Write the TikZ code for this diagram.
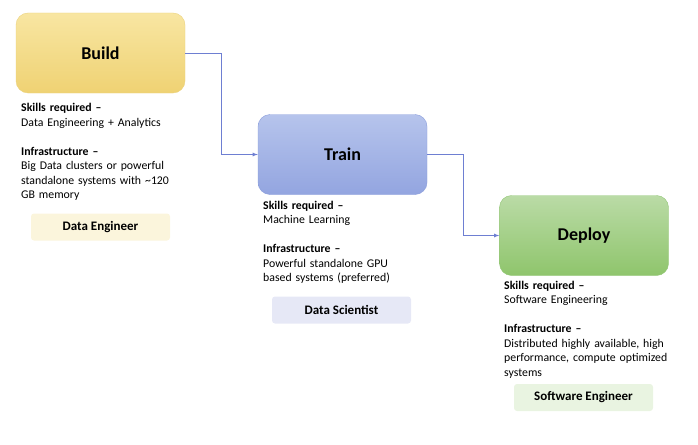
\documentclass[tikz,border=0pt]{standalone}
\usepackage{fontspec}
\setmainfont{Carlito}
\definecolor{buildtop}{HTML}{F8E6A2}
\definecolor{buildbot}{HTML}{EFD273}
\definecolor{buildline}{HTML}{EBD27E}
\definecolor{traintop}{HTML}{B6C4EC}
\definecolor{trainbot}{HTML}{93A5E0}
\definecolor{trainline}{HTML}{8A9DDB}
\definecolor{deploytop}{HTML}{BADBA6}
\definecolor{deploybot}{HTML}{8FC56C}
\definecolor{deployline}{HTML}{93C677}
\definecolor{engfill}{HTML}{FBF5DC}
\definecolor{scifill}{HTML}{E6E8F6}
\definecolor{swfill}{HTML}{E9F4E1}
\definecolor{flow}{HTML}{6E7FD2}
\begin{document}
\begin{tikzpicture}
    \def\dx{1pt}
    \def\dy{-1pt}

    \tikzstyle{stage}=[rounded corners=12pt,minimum width=169pt,minimum height=80pt,font=\fontsize{18}{20}\selectfont\bfseries]
    \tikzstyle{build}=[stage,draw=buildline,top color=buildtop,bottom color=buildbot]
    \tikzstyle{train}=[stage,draw=trainline,top color=traintop,bottom color=trainbot]
    \tikzstyle{deploy}=[stage,draw=deployline,top color=deploytop,bottom color=deploybot]
    \tikzstyle{info}=[anchor=base west,inner sep=0pt,text width=190pt,align=left,font=\fontsize{11.8}{14.5}\selectfont]
    \tikzstyle{role}=[rounded corners=3pt,minimum width=139pt,minimum height=27pt,font=\fontsize{13}{15}\selectfont\bfseries]

    \useasboundingbox (0,0) rectangle (698*\dx,444*\dy);

    \node[build]  (build) at (100.5*\dx,53*\dy) {Build};
    \node[train]  (train) at (342.5*\dx,154.5*\dy) {Train};
    \node[deploy] (deploy) at (584*\dx,235.5*\dy) {Deploy};

    \node[info] (buildinfo) at (21*\dx,111.7*\dy) {\textbf{Skills required –}\\Data Engineering + Analytics\\[14.5pt]\textbf{Infrastructure –}\\Big Data clusters or powerful\\standalone systems with \textasciitilde120\\GB memory};
    \node[info] (traininfo) at (263*\dx,209.3*\dy) {\textbf{Skills required –}\\Machine Learning\\[14.5pt]\textbf{Infrastructure –}\\Powerful standalone GPU\\based systems (preferred)};
    \node[info] (deployinfo) at (504*\dx,289.3*\dy) {\textbf{Skills required –}\\Software Engineering\\[14.5pt]\textbf{Infrastructure –}\\Distributed highly available, high\\performance, compute optimized\\systems};

    \node[role,fill=engfill] (eng) at (100.5*\dx,227*\dy) {Data Engineer};
    \node[role,fill=scifill] (sci) at (341.5*\dx,310*\dy) {Data Scientist};
    \node[role,fill=swfill]  (sw) at (583.5*\dx,397.5*\dy) {Software Engineer};

    \pgfsetarrowsend{latex}
    \tikzstyle{fwd} = [draw=flow, line width=0.8pt]

          \draw [fwd] (build.east) -- ++(36*\dx,0) |- (train.west);
          \draw [fwd] (train.east) -- ++(36*\dx,0) |- (deploy.west);

  \end{tikzpicture}
\end{document}
